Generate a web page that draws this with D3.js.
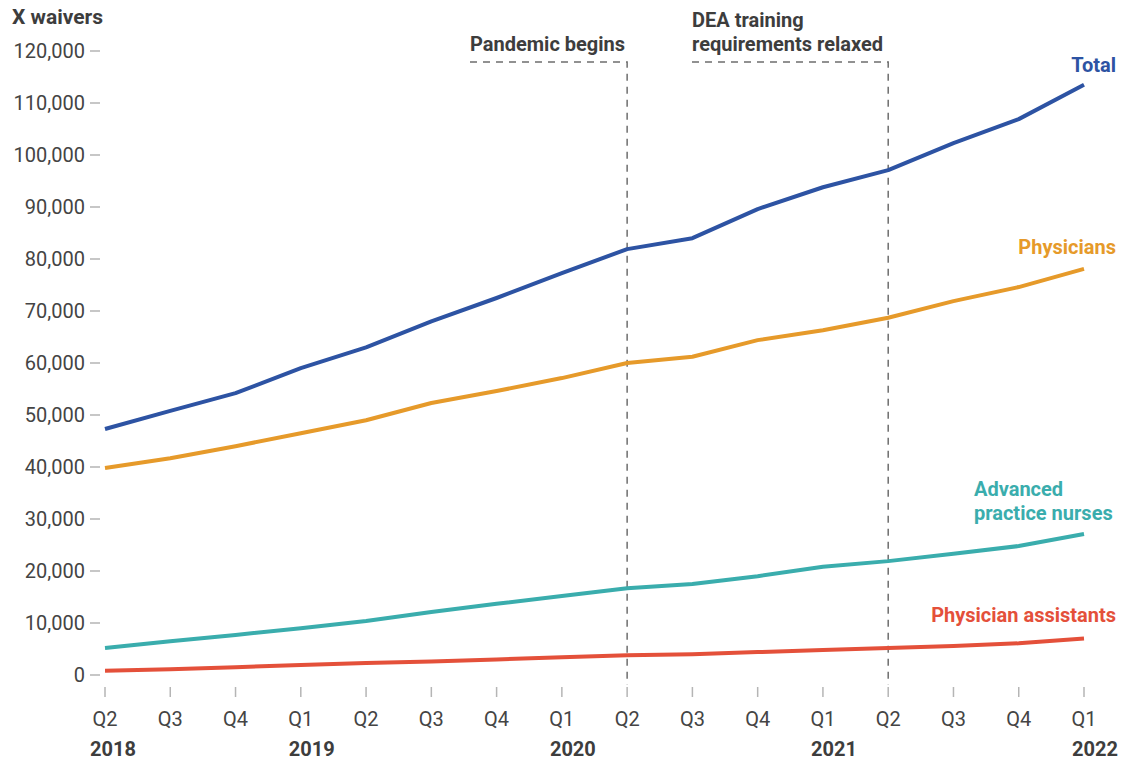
<!DOCTYPE html>
<html>
<head>
<meta charset="utf-8">
<script src="https://cdn.jsdelivr.net/npm/d3@7"></script>
<style>
  html, body { margin: 0; padding: 0; background: #fff; }
  svg { display: block; }
  text { font-family: "Roboto", "Noto Sans", sans-serif; }
</style>
</head>
<body>
<svg id="chart" width="1129" height="764"></svg>
<script>
// Quarterly X-waiver counts, Q2 2018 – Q1 2022
const quarters = ["Q2","Q3","Q4","Q1","Q2","Q3","Q4","Q1","Q2","Q3","Q4","Q1","Q2","Q3","Q4","Q1"];
const years = [
  { index: 0, label: "2018" },
  { index: 3, label: "2019" },
  { index: 7, label: "2020" },
  { index: 11, label: "2021" },
  { index: 15, label: "2022" }
];
const total      = [47300, 50800, 54200, 59000, 63000, 68000, 72500, 77300, 81900, 84000, 89600, 93800, 97100, 102300, 106900, 113500];
const physicians = [39800, 41700, 44000, 46500, 49000, 52300, 54600, 57100, 60000, 61200, 64400, 66300, 68700, 71900, 74600, 78100];
const nurses     = [5200, 6500, 7700, 9000, 10400, 12100, 13700, 15200, 16700, 17500, 19000, 20800, 21900, 23300, 24800, 27100];
const assistants = [800, 1100, 1500, 1900, 2300, 2600, 3000, 3400, 3800, 4000, 4400, 4800, 5200, 5600, 6100, 7000];
const yTicks = [0, 10000, 20000, 30000, 40000, 50000, 60000, 70000, 80000, 90000, 100000, 110000, 120000];

const series = [
  { name: "Total", values: total, color: "#2d53a3" },
  { name: "Physicians", values: physicians, color: "#e69a2a" },
  { name: "Advanced practice nurses", values: nurses, color: "#3aadad" },
  { name: "Physician assistants", values: assistants, color: "#e4503a" }
];

const svg = d3.select("#chart");
const x = d3.scaleLinear().domain([0, quarters.length - 1]).range([105, 1084]);
const y = d3.scaleLinear().domain([0, 120000]).range([675, 51]);
const textColor = "#3d3d3d";
const tickColor = "#b5b5b5";

// Y axis: short gray ticks with right-aligned labels
const yAxis = svg.append("g");
yTicks.forEach(v => {
  yAxis.append("line")
    .attr("x1", 90).attr("x2", 100)
    .attr("y1", y(v)).attr("y2", y(v))
    .attr("stroke", tickColor).attr("stroke-width", 1.5);
  yAxis.append("text")
    .attr("x", 85).attr("y", y(v))
    .attr("dy", "0.36em")
    .attr("text-anchor", "end")
    .attr("font-size", 20)
    .attr("fill", "#444")
    .text(d3.format(",")(v));
});

svg.append("text")
  .attr("x", 12).attr("y", 24)
  .attr("font-size", 21).attr("font-weight", "bold")
  .attr("fill", textColor)
  .text("X waivers");

// X axis: vertical ticks, quarter labels and year labels
const xAxis = svg.append("g");
quarters.forEach((q, i) => {
  xAxis.append("line")
    .attr("x1", x(i)).attr("x2", x(i))
    .attr("y1", 687).attr("y2", 697)
    .attr("stroke", tickColor).attr("stroke-width", 1.5);
  xAxis.append("text")
    .attr("x", x(i)).attr("y", 726)
    .attr("text-anchor", "middle")
    .attr("font-size", 20)
    .attr("fill", "#444")
    .text(q);
});
years.forEach((d, k) => {
  xAxis.append("text")
    .attr("x", x(d.index) + (k === 0 ? 8 : 11)).attr("y", 756)
    .attr("text-anchor", "middle")
    .attr("font-size", 20).attr("font-weight", "bold")
    .attr("fill", textColor)
    .text(d.label);
});

// Event annotations: dashed bracket from label down to the quarter
const events = [
  { index: 8, left: 470, lines: ["Pandemic begins"] },
  { index: 12, left: 692, lines: ["DEA training", "requirements relaxed"] }
];
events.forEach(e => {
  const g = svg.append("g");
  g.append("path")
    .attr("d", `M${e.left},62 H${x(e.index)} V685`)
    .attr("fill", "none")
    .attr("stroke", "#6e6e6e")
    .attr("stroke-width", 1.5)
    .attr("stroke-dasharray", "7,6");
  e.lines.forEach((t, k) => {
    g.append("text")
      .attr("x", e.left)
      .attr("y", 51 - (e.lines.length - 1 - k) * 24)
      .attr("font-size", 20).attr("font-weight", "bold")
      .attr("fill", textColor)
      .text(t);
  });
});

// Series lines
const line = d3.line().x((d, i) => x(i)).y(d => y(d));
series.forEach(s => {
  svg.append("path")
    .datum(s.values)
    .attr("d", line)
    .attr("fill", "none")
    .attr("stroke", s.color)
    .attr("stroke-width", 4)
    .attr("stroke-linejoin", "round");
});

// Series labels
const labels = [
  { s: series[0], x: 1116, y: 72, anchor: "end", lines: ["Total"] },
  { s: series[1], x: 1116, y: 254, anchor: "end", lines: ["Physicians"] },
  { s: series[2], x: 974, y: 496, anchor: "start", lines: ["Advanced", "practice nurses"] },
  { s: series[3], x: 1116, y: 622, anchor: "end", lines: ["Physician assistants"] }
];
labels.forEach(l => {
  l.lines.forEach((t, k) => {
    svg.append("text")
      .attr("x", l.x).attr("y", l.y + k * 24)
      .attr("text-anchor", l.anchor)
      .attr("font-size", 20).attr("font-weight", "bold")
      .attr("fill", l.s.color)
      .text(t);
  });
});
</script>
</body>
</html>
